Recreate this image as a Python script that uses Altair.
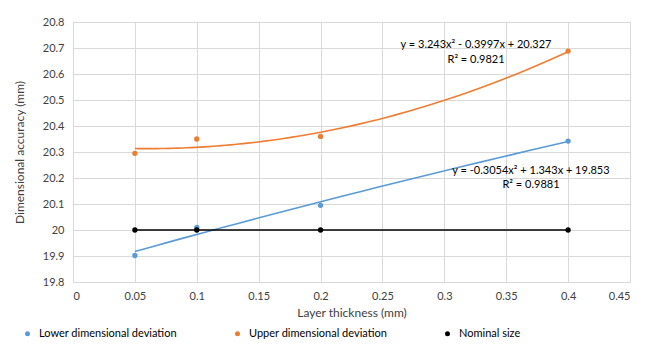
import altair as alt
import pandas as pd

# ---- data ----
thickness = [0.05, 0.1, 0.2, 0.4]
lower_dev = [19.902, 20.010, 20.095, 20.342]
upper_dev = [20.295, 20.350, 20.360, 20.688]
nominal = [20.0, 20.0, 20.0, 20.0]

series_names = ["Lower dimensional deviation", "Upper dimensional deviation", "Nominal size"]
series_colors = ["#5b9bd5", "#ed7d31", "#000000"]

x_ticks = [0, 0.05, 0.1, 0.15, 0.2, 0.25, 0.3, 0.35, 0.4, 0.45]
y_ticks = [19.8, 19.9, 20.0, 20.1, 20.2, 20.3, 20.4, 20.5, 20.6, 20.7, 20.8]

eq_text = ["y = 3.243x² - 0.3997x + 20.327", "R² = 0.9821",
           "y = -0.3054x² + 1.343x + 19.853", "R² = 0.9881"]
eq_x = [0.3256, 0.3256, 0.37, 0.37]
eq_y = [20.71, 20.655, 20.227, 20.173]

FONT = "Lato"

rows = []
for name, vals in zip(series_names, [lower_dev, upper_dev, nominal]):
    for t, v in zip(thickness, vals):
        rows.append({"t": t, "v": v, "series": name})
df = pd.DataFrame(rows)
eq_df = pd.DataFrame({"t": eq_x, "v": eq_y, "label": eq_text})

xs = alt.Scale(domain=[0, 0.45], nice=False, zero=False)
ys = alt.Scale(domain=[19.8, 20.8], nice=False, zero=False)

x_axis = alt.Axis(values=x_ticks, format="~g", tickSize=0, domain=False,
                  labelPadding=8, titlePadding=6)
y_axis = alt.Axis(values=y_ticks, format="~g", tickSize=0, domain=False,
                  labelPadding=9, titlePadding=16)

X = alt.X("t:Q", scale=xs, title="Layer thickness (mm)", axis=x_axis)
Y = alt.Y("v:Q", scale=ys, title="Dimensional accuracy (mm)", axis=y_axis)

base = alt.Chart(df)

trend_lower = base.transform_filter(alt.datum.series == series_names[0]).transform_regression(
    "t", "v", method="poly", order=2, extent=[0.05, 0.4]
).mark_line(color=series_colors[0], strokeWidth=1.6).encode(x=X, y=Y)

trend_upper = base.transform_filter(alt.datum.series == series_names[1]).transform_regression(
    "t", "v", method="poly", order=2, extent=[0.05, 0.4]
).mark_line(color=series_colors[1], strokeWidth=1.6).encode(x=X, y=Y)

nominal_line = base.transform_filter(alt.datum.series == series_names[2]).mark_line(
    color="#000000", strokeWidth=1.6).encode(x=X, y=Y)

points = base.mark_circle(size=28, opacity=1).encode(
    x=X, y=Y,
    color=alt.Color("series:N",
                    scale=alt.Scale(domain=series_names, range=series_colors),
                    sort=series_names,
                    legend=alt.Legend(title=None, orient="none", direction="horizontal",
                                      columns=3, legendX=-51, legendY=306,
                                      gridAlign="all", columnPadding=54,
                                      symbolType="circle", symbolSize=25,
                                      labelFontSize=11, labelFont=FONT,
                                      labelLimit=300, labelOffset=6))
)

eq = alt.Chart(eq_df).mark_text(font=FONT, fontSize=11, color="#000000", align="center",
                                baseline="middle").encode(x=X, y=Y, text="label:N")

chart = alt.layer(trend_lower, trend_upper, nominal_line, points, eq).properties(
    width=557, height=260,
    autosize=alt.AutoSizeParams(type="none"),
    padding={"left": 65, "top": 14, "right": 9, "bottom": 62},
).configure_view(stroke=None).configure_axis(
    gridColor="#d9d9d9", gridWidth=1, labelFont=FONT, titleFont=FONT,
    labelFontSize=11, titleFontSize=12, labelColor="#404040", titleColor="#404040",
    titleFontWeight="normal"
)

chart.save("out.html", embed_options={"renderer": "svg", "actions": False})
